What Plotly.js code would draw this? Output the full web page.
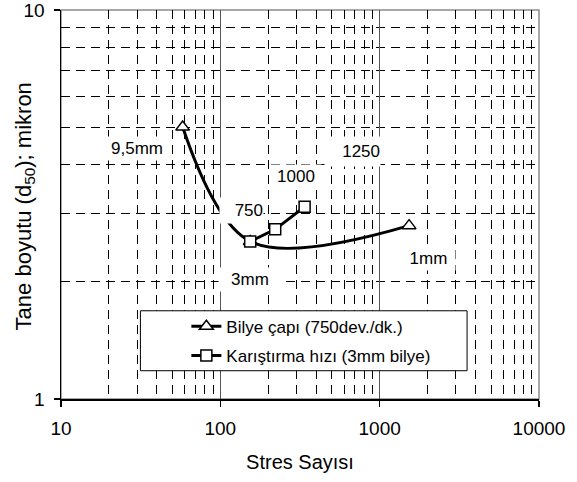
<!DOCTYPE html>
<html>
<head>
<meta charset="utf-8">
<script src="https://cdn.plot.ly/plotly-3.0.1.min.js"></script>
<style>html,body{margin:0;padding:0;background:#fff;}#chart{width:577px;height:482px;}</style>
</head>
<body>
<div id="chart"></div>
<script>
// ---- data ----
const seriesNames = ['Bilye çapı (750dev./dk.)', 'Karıştırma hızı (3mm bilye)'];
const ballX = [58, 154, 1530];
const ballY = [5.0, 2.54, 2.79];
const ballLabels = ['9,5mm', '3mm', '1mm'];
const speedX = [154, 221, 338];
const speedY = [2.54, 2.73, 3.12];
const speedLabels = ['750', '1000', '1250'];
const xTickVals = [10, 100, 1000, 10000];
const yTickVals = [1, 10];
const xTitle = 'Stres Sayısı';
const yTitle = 'Tane boyutu (d<sub>50</sub>); mikron';

const FONT = 'Liberation Sans, Arial, sans-serif';

const traces = [
  {
    x: ballX, y: ballY, name: seriesNames[0], type: 'scatter', mode: 'lines+markers',
    line: {color: '#000', width: 3, shape: 'spline', smoothing: 1},
    marker: {symbol: 'triangle-up', size: 12, color: '#fff', line: {color: '#000', width: 1.5}},
    legendgroup: 'a'
  },
  {
    x: speedX, y: speedY, name: seriesNames[1], type: 'scatter', mode: 'lines+markers',
    line: {color: '#000', width: 3},
    marker: {symbol: 'square', size: 11, color: '#fff', line: {color: '#000', width: 1.5}},
    legendgroup: 'b'
  }
];

// plot-area pixel helpers for label boxes (paper coords)
const L = 60.5, W = 478.5, T = 10, H = 389.3;
const px = v => (v - L) / W;
const py = v => (T + H - v) / H;

function label(text, cx, cy, w, h, align) {
  return {
    text: text, xref: 'paper', yref: 'paper', x: px(cx), y: py(cy),
    xanchor: 'center', yanchor: 'middle', showarrow: false,
    bgcolor: '#fff', width: w, height: h, align: align || 'center', borderpad: 0,
    font: {family: FONT, size: 17, color: '#000'}
  };
}

const annotations = [
  label(ballLabels[0], 137, 149, 62, 23),
  label(ballLabels[1], 250, 279.5, 62, 23),
  label(ballLabels[2], 428.5, 258, 53, 24),
  label(speedLabels[0], 241.5, 210.5, 43, 25, 'right'),
  label(speedLabels[1], 296, 176, 50, 22),
  label(speedLabels[2], 352.5, 151.5, 55, 29, 'right'),
  {
    text: yTitle, xref: 'paper', yref: 'paper', x: px(24), y: py(207),
    xanchor: 'center', yanchor: 'middle', textangle: -90, showarrow: false,
    font: {family: FONT, size: 22, color: '#000'}
  }
];

const shapes = [
  {type: 'rect', xref: 'paper', yref: 'paper', x0: 0, x1: 1, y0: 0, y1: 1,
   line: {color: '#8c8c8c', width: 1.5}, layer: 'below'},
  {type: 'rect', xref: 'paper', yref: 'paper', x0: px(140), x1: px(467), y0: py(371), y1: py(311),
   line: {color: '#000', width: 1}, fillcolor: '#fff', layer: 'above'}
];

const layout = {
  width: 577, height: 482,
  margin: {l: 60.5, r: 38, t: 10, b: 82.7, pad: 0},
  paper_bgcolor: '#fff', plot_bgcolor: '#fff',
  font: {family: FONT, color: '#000'},
  showlegend: true,
  legend: {
    x: px(186), y: py(309), xanchor: 'left', yanchor: 'top',
    bgcolor: 'rgba(0,0,0,0)', borderwidth: 0,
    font: {family: FONT, size: 17, color: '#000'},
    tracegroupgap: 4
  },
  xaxis: {
    type: 'log', range: [1, 4.00001], tickvals: xTickVals, ticktext: xTickVals.map(String),
    showgrid: true, gridcolor: '#555', gridwidth: 1,
    minor: {dtick: 'D1', showgrid: true, gridcolor: '#000', gridwidth: 1, griddash: '9px,6px', ticks: ''},
    showline: true, linecolor: '#000', linewidth: 1.5,
    ticks: 'outside', ticklen: 6, tickcolor: '#000', tickwidth: 1.5,
    ticklabelstandoff: 6, ticklabeloverflow: 'allow',
    tickfont: {family: FONT, size: 19, color: '#000'},
    title: {text: xTitle, font: {family: FONT, size: 20, color: '#000'}, standoff: 16},
    zeroline: false
  },
  yaxis: {
    type: 'log', range: [0, 1.00001], tickvals: yTickVals, ticktext: yTickVals.map(String),
    showgrid: false,
    minor: {dtick: 'D1', showgrid: true, gridcolor: '#000', gridwidth: 1, griddash: '9px,6px', ticks: ''},
    showline: true, linecolor: '#000', linewidth: 1.5,
    ticks: 'outside', ticklen: 6, tickcolor: '#000', tickwidth: 1.5,
    ticklabeloverflow: 'allow', ticklabelstandoff: 5,
    tickfont: {family: FONT, size: 19, color: '#000'},
    zeroline: false
  },
  annotations: annotations,
  shapes: shapes
};

Plotly.newPlot('chart', traces, layout, {staticPlot: true, displayModeBar: false});
</script>
</body>
</html>
